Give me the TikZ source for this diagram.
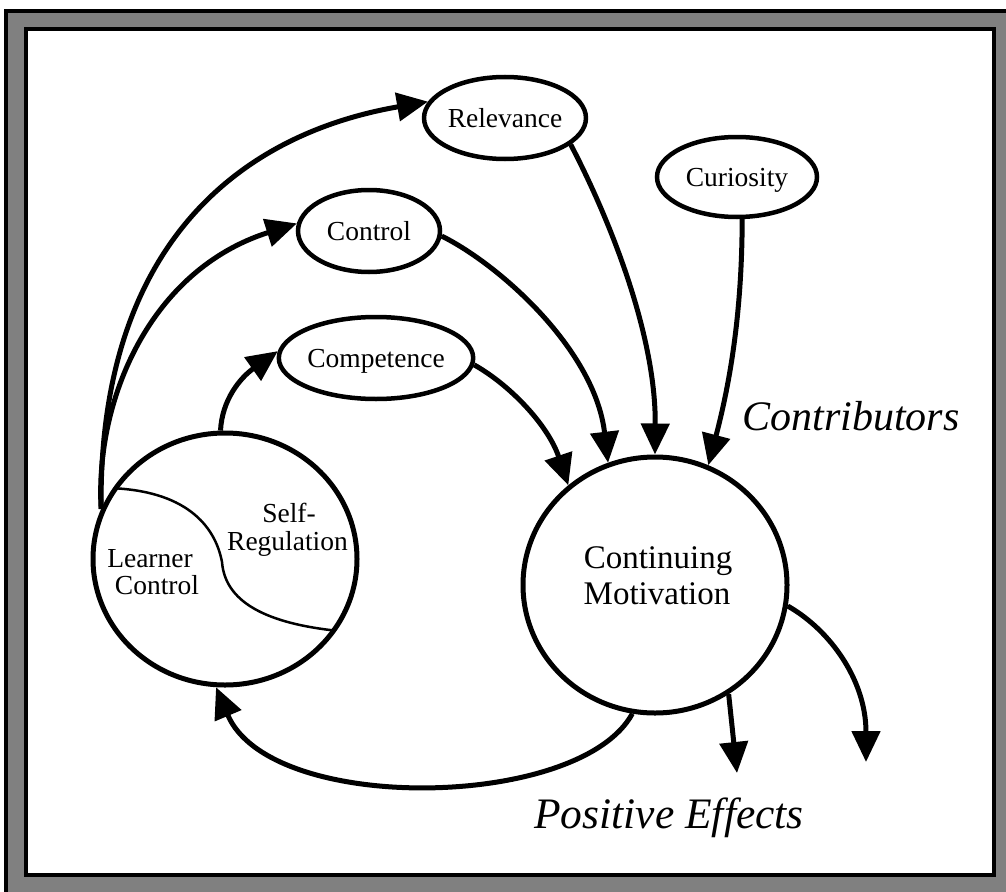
\documentclass[tikz,border=0pt]{standalone}
\usepackage{fontspec}
\setmainfont{Liberation Serif}
\usetikzlibrary{arrows.meta,shapes.geometric}
\begin{document}
\begin{tikzpicture}[x=1pt,y=1pt,
  bubble/.style={ellipse,draw,line width=4.5pt,inner sep=0pt,minimum height=82pt,text height=18pt,text depth=0pt,font=\fontsize{27.5}{30}\selectfont},
  bigcirc/.style={ellipse,draw,line width=5pt,inner sep=0pt},
  conn/.style={line width=5pt,-{Triangle[length=31pt,width=28pt]}},
  lbl/.style={anchor=base,inner sep=0pt,font=\fontsize{27.5}{30}\selectfont},
  biglbl/.style={anchor=base,inner sep=0pt,font=\fontsize{33}{36}\selectfont},
  hugelbl/.style={anchor=base,inner sep=0pt,font=\fontsize{42}{46}\selectfont\itshape}]
\useasboundingbox (0,0) rectangle (1006,-891);
\fill[white] (0,0) rectangle (1006,-891);
\draw[line width=4pt,fill=black!50] (6,-11) rectangle (1012,-897);
\draw[line width=4pt,fill=white] (26,-29) rectangle (994,-875);

\node[bubble,minimum width=160pt] (Rel) at (505,-118) {Relevance};
\node[bubble,minimum width=160pt,minimum height=80pt] (Cur) at (737,-177) {Curiosity};
\node[bubble,minimum width=142pt] (Con) at (369,-231) {Control};
\node[bubble,minimum width=188pt] (Com) at (376,-358) {Competence};

\node[bigcirc,minimum width=264pt,minimum height=252pt] (L) at (225,-559) {};
\node[bigcirc,minimum width=264pt,minimum height=256pt] (B) at (655,-585) {};

\begin{scope}
\clip (225,-559) ellipse [x radius=130, y radius=124];
\draw[line width=2.5pt] (108,-488) .. controls (185,-490) and (215,-525) .. (222,-562) .. controls (225,-600) and (262,-625) .. (350,-632);
\end{scope}

\node[lbl] (t1) at (289,-522) {Self-};
\node[lbl] (t2) at (287.5,-550) {Regulation};
\node[lbl] (t3) at (150,-567) {Learner};
\node[lbl] (t4) at (157,-594) {Control};
\node[biglbl] (t5) at (658,-568) {Continuing};
\node[biglbl] (t6) at (657,-604) {Motivation};
\node[hugelbl] (contrib) at (851,-430) {Contributors};
\node[hugelbl,font=\fontsize{43.5}{46}\selectfont\itshape] (pos) at (669,-828) {Positive Effects};

\coordinate (e1) at (737,-773);
\coordinate (e2) at (866,-762);

\draw[conn] (L.158) .. controls (98,-250) and (235,-135) .. (Rel.168);
\draw[conn] (L.158) .. controls (95,-400) and (150,-270) .. (Con.174);
\draw[conn] (L.92) .. controls (222,-400) and (240,-378) .. (Com.176);
\draw[conn] (Rel.-22) .. controls (605,-210) and (656,-330) .. (B.90);
\draw[conn] (Con.-4) .. controls (500,-265) and (595,-350) .. (B.111);
\draw[conn] (Com.-4) .. controls (510,-385) and (548,-425) .. (B.131);
\draw[conn] (Cur.-83) .. controls (742,-320) and (728,-390) .. (B.66);
\draw[conn] (B.-56) -- (e1);
\draw[conn] (B.-9) .. controls (830,-630) and (866,-680) .. (e2);
\draw[conn] (B.260) .. controls (580,-810) and (270,-815) .. (L.266);
\end{tikzpicture}
\end{document}
